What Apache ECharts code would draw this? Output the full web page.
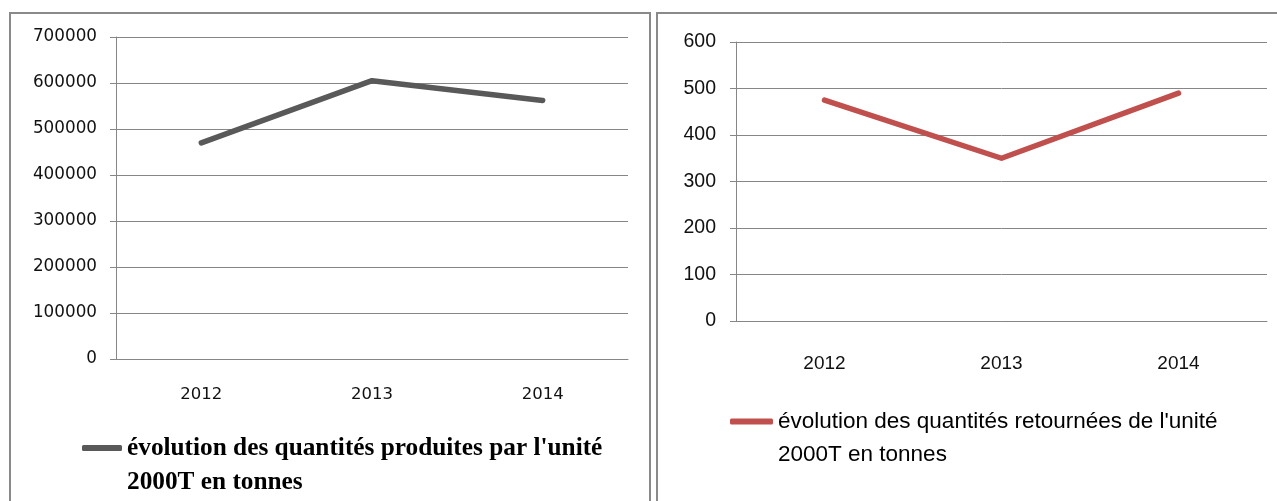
<!DOCTYPE html>
<html>
<head>
<meta charset="utf-8">
<script src="https://cdn.jsdelivr.net/npm/echarts@6/dist/echarts.min.js"></script>
<style>
  html, body { margin: 0; padding: 0; background: #fff; }
  #chart { width: 1277px; height: 501px; }
</style>
</head>
<body>
<div id="chart"></div>
<script>
  // data
  var years = ['2012', '2013', '2014'];
  var produites = [470000, 605000, 562000];
  var retournees = [475, 350, 490];
  var nameProduites = "évolution des quantités produites par l'unité\n2000T en tonnes";
  var nameRetournees = "évolution des quantités retournées de l'unité\n2000T en tonnes";

  var axisGray = '#868686';
  var labelColor = '#111';
  var myChart = echarts.init(document.getElementById('chart'));

  // blank first line so that the icon sits on the first real line
  var legendText = function (name) {
    return ' \n' + name;
  };
  var plain = function (v) {
    return String(v);
  };

  myChart.setOption({
    animation: false,
    graphic: [
      {
        type: 'polyline',
        shape: { points: [[10, 520], [10, 13], [650, 13], [650, 520]] },
        style: { stroke: '#8a8a8a', lineWidth: 2, fill: null }
      },
      {
        type: 'polyline',
        shape: { points: [[657, 520], [657, 13], [1290, 13]] },
        style: { stroke: '#8a8a8a', lineWidth: 2, fill: null }
      }
    ],
    grid: [
      { left: 116, top: 37, width: 512, height: 322 },
      { left: 736, top: 42, width: 531, height: 279 }
    ],
    legend: [
      {
        data: [nameProduites],
        left: 82,
        top: 397,
        padding: 0,
        icon: 'roundRect',
        itemWidth: 40,
        itemHeight: 6,
        formatter: legendText,
        textStyle: {
          fontFamily: 'Liberation Serif',
          fontWeight: 'bold',
          fontSize: 25.3,
          color: '#000',
          lineHeight: 34
        }
      },
      {
        data: [nameRetournees],
        left: 730,
        top: 372,
        padding: 0,
        icon: 'roundRect',
        itemWidth: 43,
        itemHeight: 6,
        formatter: legendText,
        textStyle: {
          fontFamily: 'Liberation Sans',
          fontSize: 22.5,
          color: '#000',
          lineHeight: 33
        }
      }
    ],
    xAxis: [
      {
        gridIndex: 0,
        type: 'category',
        data: years,
        axisLine: { lineStyle: { color: axisGray } },
        axisTick: { length: 6, lineStyle: { color: axisGray } },
        axisLabel: { margin: 27, fontFamily: 'DejaVu Sans', fontSize: 16.5, color: labelColor }
      },
      {
        gridIndex: 1,
        type: 'category',
        data: years,
        axisLine: { lineStyle: { color: axisGray } },
        axisTick: { length: 6, lineStyle: { color: axisGray } },
        axisLabel: { margin: 33, fontFamily: 'Liberation Sans', fontSize: 19, color: labelColor }
      }
    ],
    yAxis: [
      {
        gridIndex: 0,
        type: 'value',
        min: 0,
        max: 700000,
        interval: 100000,
        axisLine: { show: true, lineStyle: { color: axisGray } },
        axisTick: { show: true, length: 6, lineStyle: { color: axisGray } },
        splitLine: { lineStyle: { color: axisGray } },
        axisLabel: { margin: 19, fontFamily: 'DejaVu Sans', fontSize: 16.8, color: labelColor, formatter: plain }
      },
      {
        gridIndex: 1,
        type: 'value',
        min: 0,
        max: 600,
        interval: 100,
        axisLine: { show: true, lineStyle: { color: axisGray } },
        axisTick: { show: true, length: 6, lineStyle: { color: axisGray } },
        splitLine: { lineStyle: { color: axisGray } },
        axisLabel: { margin: 20, fontFamily: 'Liberation Sans', fontSize: 19.5, color: labelColor, formatter: plain }
      }
    ],
    series: [
      {
        name: nameProduites,
        type: 'line',
        xAxisIndex: 0,
        yAxisIndex: 0,
        data: produites,
        symbol: 'none',
        color: '#595959',
        lineStyle: { width: 5.5, cap: 'round', join: 'round' }
      },
      {
        name: nameRetournees,
        type: 'line',
        xAxisIndex: 1,
        yAxisIndex: 1,
        data: retournees,
        symbol: 'none',
        color: '#c0504d',
        lineStyle: { width: 5.5, cap: 'round', join: 'round' }
      }
    ]
  });
</script>
</body>
</html>
